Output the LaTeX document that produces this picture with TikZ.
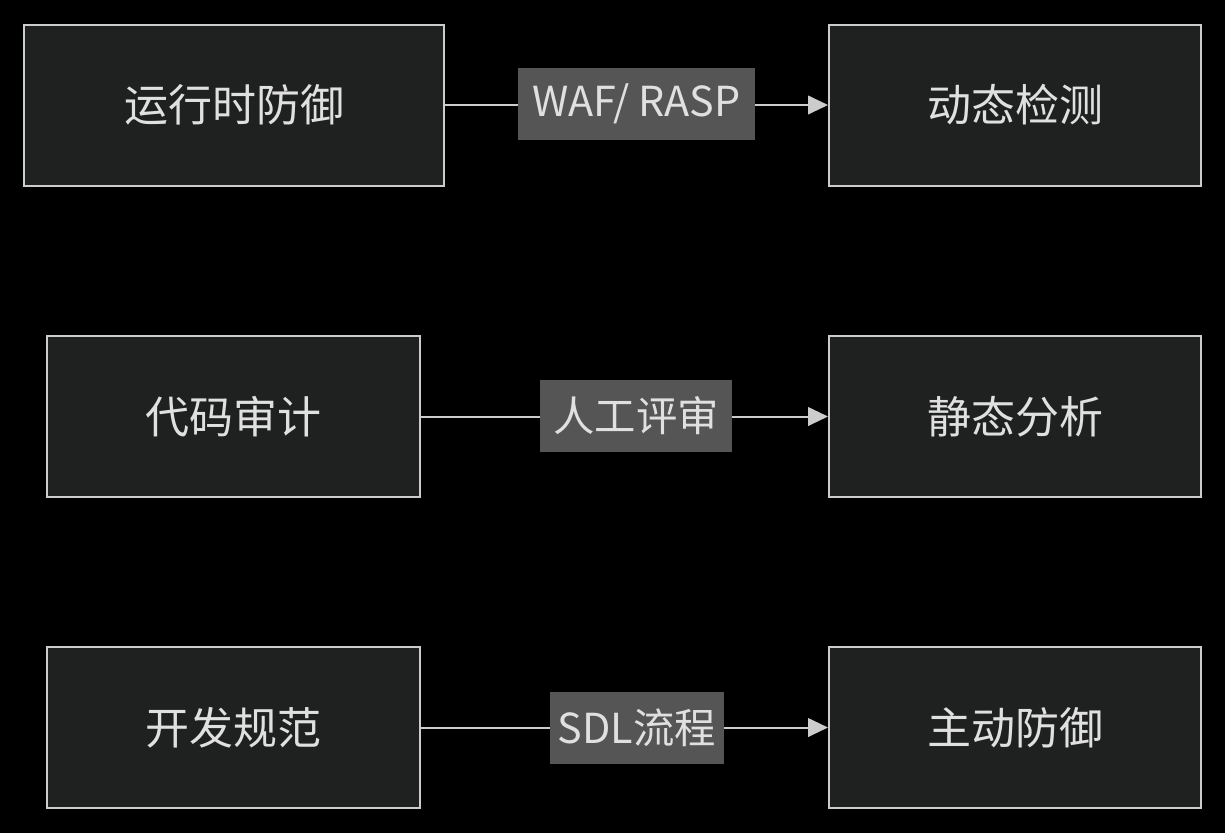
\documentclass[tikz,border=0pt]{standalone}
\usepackage{fontspec}
\setmainfont{Noto Sans CJK SC}
\usetikzlibrary{arrows.meta}
\definecolor{bg}{HTML}{000000}
\definecolor{boxfill}{HTML}{1F2020}
\definecolor{boxline}{HTML}{CCCCCC}
\definecolor{txt}{HTML}{E0E0E0}
\definecolor{lblfill}{HTML}{555555}
\begin{document}
\begin{tikzpicture}[x=0.75pt,y=-0.75pt,
  box/.style={draw=boxline,line width=1.5pt,fill=boxfill,text=txt,minimum height=120.75pt,inner sep=0pt,font=\fontsize{33}{36}\selectfont},
  lbl/.style={fill=lblfill,text=txt,minimum height=54pt,inner sep=0pt,font=\fontsize{31}{34}\selectfont},
  arr/.style={draw=boxline,line width=1.5pt,-{Triangle[length=15pt,width=14pt]}}]
\fill[bg] (0,0) rectangle (1225,833);
\node[box,minimum width=315pt] (a) at (234,105) {运行时防御};
\node[box,minimum width=279pt] (b) at (1015,105) {动态检测};
\node[box,minimum width=280pt] (c) at (233.5,416.5) {代码审计};
\node[box,minimum width=279pt] (d) at (1015,416.5) {静态分析};
\node[box,minimum width=280pt] (e) at (233.5,727.5) {开发规范};
\node[box,minimum width=279pt] (f) at (1015,727.5) {主动防御};
\draw[arr] (a) -- (b);
\draw[arr] (c) -- (d);
\draw[arr] (e) -- (f);
\node[lbl,minimum width=177.75pt] (l1) at (636.5,104) {WAF/ RASP};
\node[lbl,minimum width=144pt] (l2) at (636,416) {人工评审};
\node[lbl,minimum width=130.5pt] (l3) at (637,728) {SDL流程};
\end{tikzpicture}
\end{document}
